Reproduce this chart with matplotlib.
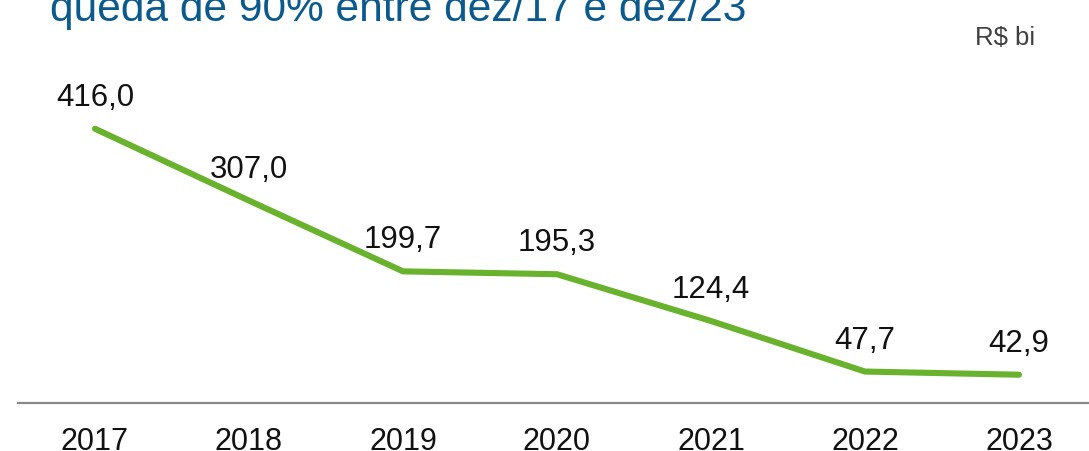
import matplotlib
matplotlib.use('Agg')
import matplotlib.pyplot as plt

plt.rcParams['font.family'] = ['Liberation Sans', 'DejaVu Sans']

# dados (R$ bi)
anos = ['2017', '2018', '2019', '2020', '2021', '2022', '2023']
valores = [416.0, 307.0, 199.7, 195.3, 124.4, 47.7, 42.9]
rotulos = ['416,0', '307,0', '199,7', '195,3', '124,4', '47,7', '42,9']
titulo = 'queda de 90% entre dez/17 e dez/23'
unidade = 'R$ bi'

W, H = 1089, 452
fig = plt.figure(figsize=(W / 100, H / 100), dpi=100)
ax = fig.add_axes([18 / W, 48 / H, 1078 / W, 344 / H])

x = list(range(len(anos)))
ax.plot(x, valores, color='#69B22E', lw=4.4, solid_capstyle='round',
        solid_joinstyle='miter', clip_on=False)

for i in x:
    ax.annotate(rotulos[i], (i, valores[i]), xytext=(0, 17.3), textcoords='offset points',
                ha='center', va='baseline', fontsize=22.5, color='#111111')
    ax.annotate(anos[i], (i, 0), xycoords=('data', 'axes fraction'), xytext=(0, -33),
                textcoords='offset points', ha='center', va='baseline',
                fontsize=22, color='#111111', annotation_clip=False)

ax.set_xlim(-0.5, 6.5)
ax.set_ylim(0, 521.8)
ax.set_xticks([])
ax.set_yticks([])
for s in ['top', 'left', 'right']:
    ax.spines[s].set_visible(False)
ax.spines['bottom'].set_color('#888888')
ax.spines['bottom'].set_linewidth(1.6)
ax.patch.set_visible(False)

fig.text(50 / W, 1 - 21 / H, titulo, ha='left', va='baseline', fontsize=30.6, color='#0B5A8E')
fig.text(1035 / W, 1 - 45 / H, unidade, ha='right', va='baseline', fontsize=18.5, color='#404040')

fig.savefig('out.png', dpi=100)
